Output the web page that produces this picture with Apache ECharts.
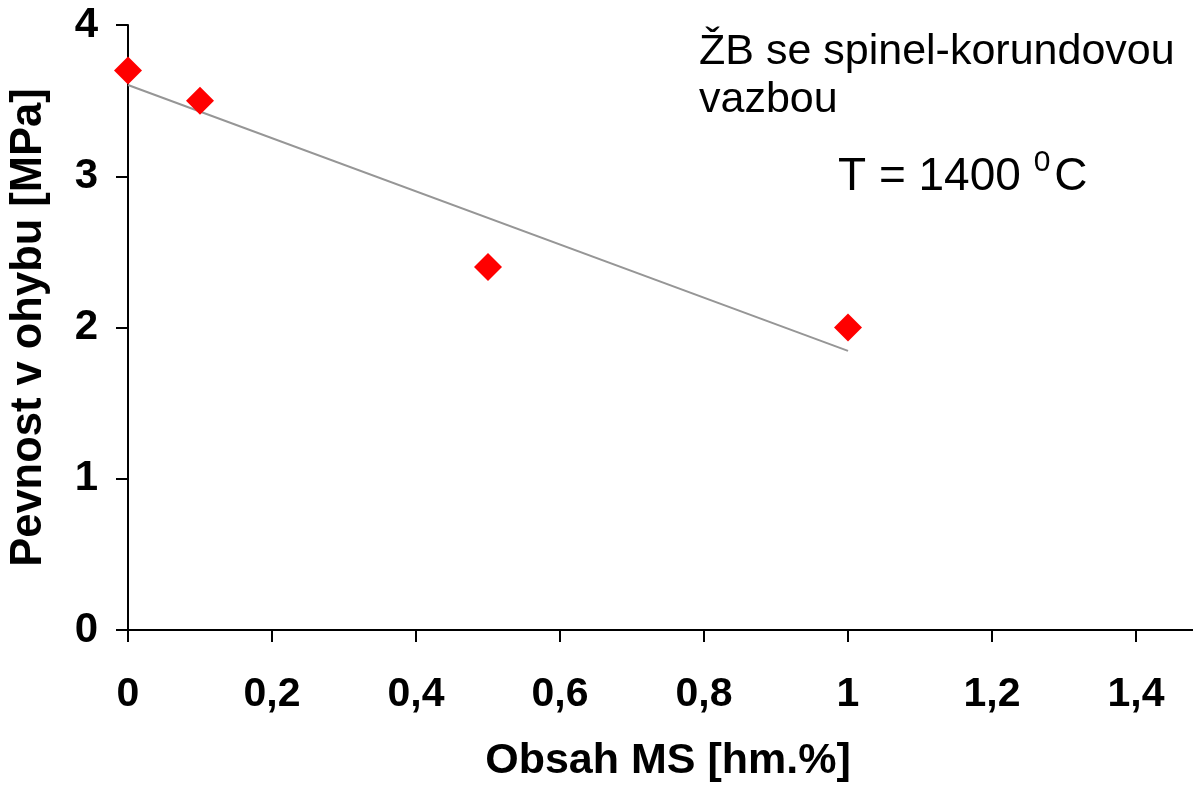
<!DOCTYPE html>
<html>
<head>
<meta charset="utf-8">
<script src="https://cdn.jsdelivr.net/npm/echarts@6/dist/echarts.min.js"></script>
<style>
html,body{margin:0;padding:0;background:#fff;}
#chart{width:1193px;height:788px;}
</style>
</head>
<body>
<div id="chart"></div>
<script>
// Data
const msContent = [0, 0.1, 0.5, 1.0];          // Obsah MS [hm.%]
const strength  = [3.7, 3.5, 2.4, 2.0];        // Pevnost v ohybu [MPa]
const xTicks = [0, 0.2, 0.4, 0.6, 0.8, 1.0, 1.2, 1.4];
const yTicks = [0, 1, 2, 3, 4];
const xTitle = 'Obsah MS [hm.%]';
const yTitle = 'Pevnost v ohybu [MPa]';
const noteLine1 = 'ŽB se spinel-korundovou';
const noteLine2 = 'vazbou';

// Linear trend line (least squares) computed from the data
const n = msContent.length;
const mx = msContent.reduce((a, b) => a + b, 0) / n;
const my = strength.reduce((a, b) => a + b, 0) / n;
let sxy = 0, sxx = 0;
for (let i = 0; i < n; i++) {
  sxy += (msContent[i] - mx) * (strength[i] - my);
  sxx += (msContent[i] - mx) * (msContent[i] - mx);
}
const slope = sxy / sxx;
const intercept = my - slope * mx;
const xMinData = Math.min(...msContent), xMaxData = Math.max(...msContent);
const trend = [[xMinData, intercept + slope * xMinData], [xMaxData, intercept + slope * xMaxData]];

const FONT = '"Liberation Sans", Arial, sans-serif';
const chart = echarts.init(document.getElementById('chart'));
chart.setOption({
  animation: false,
  backgroundColor: '#ffffff',
  grid: { left: 128, width: 1080, top: 25, height: 605, containLabel: false, outerBoundsMode: 'none' },
  xAxis: {
    type: 'value', min: 0, max: 1.5, interval: 0.2,
    name: xTitle, nameLocation: 'middle', nameGap: 110,
    nameTextStyle: { fontFamily: FONT, fontWeight: 'bold', fontSize: 43, color: '#000', verticalAlign: 'top' },
    axisLine: { show: true, onZero: false, lineStyle: { color: '#000', width: 2 } },
    axisTick: { show: true, inside: false, length: 12, lineStyle: { color: '#000', width: 2 } },
    splitLine: { show: false },
    axisLabel: {
      showMaxLabel: false, margin: 44,
      fontFamily: FONT, fontWeight: 'bold', fontSize: 41, color: '#000',
      formatter: v => String(parseFloat(v.toFixed(1))).replace('.', ',')
    }
  },
  yAxis: {
    type: 'value', min: 0, max: 4, interval: 1,
    name: yTitle, nameLocation: 'middle', nameGap: 77,
    nameTextStyle: { fontFamily: FONT, fontWeight: 'bold', fontSize: 43.5, color: '#000' },
    axisLine: { show: true, onZero: false, lineStyle: { color: '#000', width: 2 } },
    axisTick: { show: true, inside: false, length: 12, lineStyle: { color: '#000', width: 2 } },
    splitLine: { show: false },
    axisLabel: {
      margin: 30, fontFamily: FONT, fontWeight: 'bold', fontSize: 42, color: '#000',
      formatter: v => String(v)
    }
  },
  series: [
    {
      type: 'line', data: trend, symbol: 'none', silent: true, z: 1,
      lineStyle: { color: '#969696', width: 2 }
    },
    {
      type: 'scatter', data: msContent.map((x, i) => [x, strength[i]]),
      symbol: 'diamond', symbolSize: 28, z: 2,
      itemStyle: { color: '#ff0000', opacity: 1 }
    }
  ],
  graphic: [
    { type: 'text', left: 699, top: 28,
      style: { text: noteLine1 + '\n' + noteLine2, font: '43px ' + FONT, fill: '#000', lineHeight: 48 } },
    { type: 'text', left: 838, top: 148,
      style: {
        text: '{n|T = 1400 }{s|0}{n|C}',
        rich: {
          n: { font: '46px ' + FONT, fill: '#000', verticalAlign: 'bottom', lineHeight: 52 },
          s: { font: '30px ' + FONT, fill: '#000', verticalAlign: 'top', lineHeight: 52, padding: [0, 4, 0, 0] }
        }
      } }
  ]
});
</script>
</body>
</html>
